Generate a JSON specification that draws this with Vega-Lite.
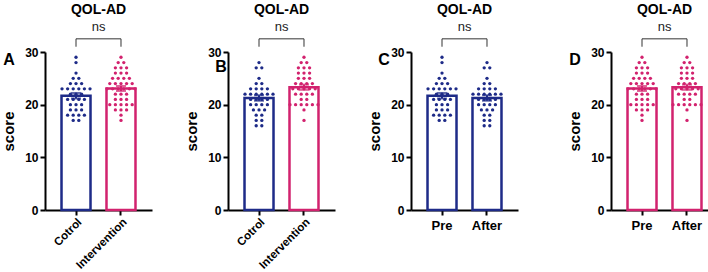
{
  "$schema": "https://vega.github.io/schema/vega-lite/v6.json",
  "padding": {"left": 1, "top": 2, "right": 0, "bottom": 0},
  "background": "white",
  "config": {
    "font": "Liberation Sans",
    "view": {"stroke": null},
    "scale": {"bandPaddingInner": 0.333, "bandPaddingOuter": 0.356, "barBandPaddingInner": 0.333},
    "axis": {"domainColor": "black", "domainWidth": 2, "tickColor": "black", "tickWidth": 2, "tickSize": 5, "labelFont": "Liberation Sans", "labelFontWeight": "bold", "labelFontSize": 12, "labelColor": "black", "grid": false, "titleFont": "Liberation Sans", "titleFontWeight": "bold", "titleFontSize": 15, "titleColor": "black"},
    "title": {"font": "Liberation Sans", "fontWeight": "bold", "fontSize": 14, "color": "black", "offset": 4}
  },
  "datasets": {"scores": [
    {"cohort": "Cotrol", "time": "Pre", "score": 29}, {"cohort": "Cotrol", "time": "Pre", "score": 28}, {"cohort": "Cotrol", "time": "Pre", "score": 26},
    {"cohort": "Cotrol", "time": "Pre", "score": 25}, {"cohort": "Cotrol", "time": "Pre", "score": 25},
    {"cohort": "Cotrol", "time": "Pre", "score": 24}, {"cohort": "Cotrol", "time": "Pre", "score": 24}, {"cohort": "Cotrol", "time": "Pre", "score": 24},
    {"cohort": "Cotrol", "time": "Pre", "score": 23}, {"cohort": "Cotrol", "time": "Pre", "score": 23}, {"cohort": "Cotrol", "time": "Pre", "score": 23}, {"cohort": "Cotrol", "time": "Pre", "score": 23}, {"cohort": "Cotrol", "time": "Pre", "score": 23}, {"cohort": "Cotrol", "time": "Pre", "score": 23},
    {"cohort": "Cotrol", "time": "Pre", "score": 22}, {"cohort": "Cotrol", "time": "Pre", "score": 22}, {"cohort": "Cotrol", "time": "Pre", "score": 22},
    {"cohort": "Cotrol", "time": "Pre", "score": 21}, {"cohort": "Cotrol", "time": "Pre", "score": 21}, {"cohort": "Cotrol", "time": "Pre", "score": 21}, {"cohort": "Cotrol", "time": "Pre", "score": 21},
    {"cohort": "Cotrol", "time": "Pre", "score": 20}, {"cohort": "Cotrol", "time": "Pre", "score": 20}, {"cohort": "Cotrol", "time": "Pre", "score": 20},
    {"cohort": "Cotrol", "time": "Pre", "score": 19}, {"cohort": "Cotrol", "time": "Pre", "score": 19}, {"cohort": "Cotrol", "time": "Pre", "score": 19},
    {"cohort": "Cotrol", "time": "Pre", "score": 18}, {"cohort": "Cotrol", "time": "Pre", "score": 18}, {"cohort": "Cotrol", "time": "Pre", "score": 18}, {"cohort": "Cotrol", "time": "Pre", "score": 18},
    {"cohort": "Cotrol", "time": "Pre", "score": 17}, {"cohort": "Cotrol", "time": "Pre", "score": 17},

    {"cohort": "Cotrol", "time": "After", "score": 28}, {"cohort": "Cotrol", "time": "After", "score": 27}, {"cohort": "Cotrol", "time": "After", "score": 27},
    {"cohort": "Cotrol", "time": "After", "score": 25},
    {"cohort": "Cotrol", "time": "After", "score": 24}, {"cohort": "Cotrol", "time": "After", "score": 24},
    {"cohort": "Cotrol", "time": "After", "score": 23}, {"cohort": "Cotrol", "time": "After", "score": 23}, {"cohort": "Cotrol", "time": "After", "score": 23}, {"cohort": "Cotrol", "time": "After", "score": 23},
    {"cohort": "Cotrol", "time": "After", "score": 22}, {"cohort": "Cotrol", "time": "After", "score": 22}, {"cohort": "Cotrol", "time": "After", "score": 22}, {"cohort": "Cotrol", "time": "After", "score": 22}, {"cohort": "Cotrol", "time": "After", "score": 22}, {"cohort": "Cotrol", "time": "After", "score": 22},
    {"cohort": "Cotrol", "time": "After", "score": 21}, {"cohort": "Cotrol", "time": "After", "score": 21}, {"cohort": "Cotrol", "time": "After", "score": 21}, {"cohort": "Cotrol", "time": "After", "score": 21},
    {"cohort": "Cotrol", "time": "After", "score": 20}, {"cohort": "Cotrol", "time": "After", "score": 20}, {"cohort": "Cotrol", "time": "After", "score": 20}, {"cohort": "Cotrol", "time": "After", "score": 20},
    {"cohort": "Cotrol", "time": "After", "score": 19}, {"cohort": "Cotrol", "time": "After", "score": 19}, {"cohort": "Cotrol", "time": "After", "score": 19},
    {"cohort": "Cotrol", "time": "After", "score": 18}, {"cohort": "Cotrol", "time": "After", "score": 18},
    {"cohort": "Cotrol", "time": "After", "score": 17}, {"cohort": "Cotrol", "time": "After", "score": 17},
    {"cohort": "Cotrol", "time": "After", "score": 16}, {"cohort": "Cotrol", "time": "After", "score": 16},

    {"cohort": "Intervention", "time": "Pre", "score": 29},
    {"cohort": "Intervention", "time": "Pre", "score": 28}, {"cohort": "Intervention", "time": "Pre", "score": 28},
    {"cohort": "Intervention", "time": "Pre", "score": 27}, {"cohort": "Intervention", "time": "Pre", "score": 27}, {"cohort": "Intervention", "time": "Pre", "score": 27},
    {"cohort": "Intervention", "time": "Pre", "score": 26}, {"cohort": "Intervention", "time": "Pre", "score": 26}, {"cohort": "Intervention", "time": "Pre", "score": 26},
    {"cohort": "Intervention", "time": "Pre", "score": 25}, {"cohort": "Intervention", "time": "Pre", "score": 25}, {"cohort": "Intervention", "time": "Pre", "score": 25}, {"cohort": "Intervention", "time": "Pre", "score": 25},
    {"cohort": "Intervention", "time": "Pre", "score": 24}, {"cohort": "Intervention", "time": "Pre", "score": 24}, {"cohort": "Intervention", "time": "Pre", "score": 24}, {"cohort": "Intervention", "time": "Pre", "score": 24}, {"cohort": "Intervention", "time": "Pre", "score": 24},
    {"cohort": "Intervention", "time": "Pre", "score": 23}, {"cohort": "Intervention", "time": "Pre", "score": 23}, {"cohort": "Intervention", "time": "Pre", "score": 23}, {"cohort": "Intervention", "time": "Pre", "score": 23}, {"cohort": "Intervention", "time": "Pre", "score": 23}, {"cohort": "Intervention", "time": "Pre", "score": 23},
    {"cohort": "Intervention", "time": "Pre", "score": 22}, {"cohort": "Intervention", "time": "Pre", "score": 22}, {"cohort": "Intervention", "time": "Pre", "score": 22},
    {"cohort": "Intervention", "time": "Pre", "score": 21}, {"cohort": "Intervention", "time": "Pre", "score": 21}, {"cohort": "Intervention", "time": "Pre", "score": 21},
    {"cohort": "Intervention", "time": "Pre", "score": 20}, {"cohort": "Intervention", "time": "Pre", "score": 20}, {"cohort": "Intervention", "time": "Pre", "score": 20}, {"cohort": "Intervention", "time": "Pre", "score": 20}, {"cohort": "Intervention", "time": "Pre", "score": 20},
    {"cohort": "Intervention", "time": "Pre", "score": 19}, {"cohort": "Intervention", "time": "Pre", "score": 19}, {"cohort": "Intervention", "time": "Pre", "score": 19},
    {"cohort": "Intervention", "time": "Pre", "score": 18},
    {"cohort": "Intervention", "time": "Pre", "score": 17},

    {"cohort": "Intervention", "time": "After", "score": 29},
    {"cohort": "Intervention", "time": "After", "score": 28}, {"cohort": "Intervention", "time": "After", "score": 28},
    {"cohort": "Intervention", "time": "After", "score": 27}, {"cohort": "Intervention", "time": "After", "score": 27}, {"cohort": "Intervention", "time": "After", "score": 27},
    {"cohort": "Intervention", "time": "After", "score": 26}, {"cohort": "Intervention", "time": "After", "score": 26}, {"cohort": "Intervention", "time": "After", "score": 26},
    {"cohort": "Intervention", "time": "After", "score": 25}, {"cohort": "Intervention", "time": "After", "score": 25}, {"cohort": "Intervention", "time": "After", "score": 25},
    {"cohort": "Intervention", "time": "After", "score": 24}, {"cohort": "Intervention", "time": "After", "score": 24}, {"cohort": "Intervention", "time": "After", "score": 24}, {"cohort": "Intervention", "time": "After", "score": 24},
    {"cohort": "Intervention", "time": "After", "score": 23}, {"cohort": "Intervention", "time": "After", "score": 23}, {"cohort": "Intervention", "time": "After", "score": 23}, {"cohort": "Intervention", "time": "After", "score": 23}, {"cohort": "Intervention", "time": "After", "score": 23},
    {"cohort": "Intervention", "time": "After", "score": 22}, {"cohort": "Intervention", "time": "After", "score": 22}, {"cohort": "Intervention", "time": "After", "score": 22}, {"cohort": "Intervention", "time": "After", "score": 22},
    {"cohort": "Intervention", "time": "After", "score": 21}, {"cohort": "Intervention", "time": "After", "score": 21},
    {"cohort": "Intervention", "time": "After", "score": 20}, {"cohort": "Intervention", "time": "After", "score": 20}, {"cohort": "Intervention", "time": "After", "score": 20}, {"cohort": "Intervention", "time": "After", "score": 20}, {"cohort": "Intervention", "time": "After", "score": 20}, {"cohort": "Intervention", "time": "After", "score": 20},
    {"cohort": "Intervention", "time": "After", "score": 19},
    {"cohort": "Intervention", "time": "After", "score": 17}
  ], "note": [{"label": "annotation"}]},
  "hconcat": [
    {
      "hconcat": [
        {
          "width": 107, "height": 158,
          "title": "QOL-AD",
          "resolve": {"scale": {"xOffset": "independent"}},
          "encoding": {"x": {"field": "cohort", "type": "nominal", "sort": ["Cotrol", "Intervention"], "scale": {"type": "band", "domain": ["Cotrol", "Intervention"], "paddingInner": 0.333, "paddingOuter": 0.356}, "axis": {"title": null, "labelAngle": -45, "labelAlign": "right", "labelBaseline": "top", "labelPadding": 1, "labelFontSize": 11.5}}},
          "layer": [
            {"data": {"name": "scores"}, "transform": [{"filter": "datum.time === 'Pre'"}],
             "mark": {"type": "bar", "fill": "white", "strokeWidth": 2.5, "width": 29},
             "encoding": {"y": {"aggregate": "mean", "field": "score", "type": "quantitative", "title": "score", "scale": {"domain": [0, 30]}, "axis": {"values": [0, 10, 20, 30], "titlePadding": 8}},
                          "stroke": {"field": "cohort", "type": "nominal", "scale": {"domain": ["Cotrol", "Intervention"], "range": ["#1e2b88", "#d2226e"]}, "legend": null}}},
            {"data": {"name": "scores"},
             "transform": [
               {"filter": "datum.time === 'Pre'"},
               {"window": [{"op": "row_number", "as": "rk"}], "groupby": ["cohort", "time", "score"]},
               {"joinaggregate": [{"op": "count", "as": "n"}], "groupby": ["cohort", "time", "score"]},
               {"calculate": "datum.rk - (datum.n + 1) / 2", "as": "off"}
             ],
             "mark": {"type": "circle", "size": 11, "opacity": 1},
             "encoding": {"y": {"field": "score", "type": "quantitative", "title": "score"},
                          "xOffset": {"field": "off", "type": "quantitative", "scale": {"domain": [-5, 5], "range": [-13, 43]}},
                          "color": {"field": "cohort", "type": "nominal", "scale": {"domain": ["Cotrol", "Intervention"], "range": ["#1e2b88", "#d2226e"]}, "legend": null}}},
            {"data": {"name": "scores"}, "transform": [{"filter": "datum.time === 'Pre'"}],
             "mark": {"type": "errorbar", "extent": "stderr", "ticks": {"size": 10}, "thickness": 2},
             "encoding": {"y": {"field": "score", "type": "quantitative", "title": "score"},
                          "color": {"field": "cohort", "type": "nominal", "scale": {"domain": ["Cotrol", "Intervention"], "range": ["#1e2b88", "#d2226e"]}, "legend": null}}},
            {"data": {"name": "note"}, "mark": {"type": "rule", "color": "#333333", "strokeWidth": 1}, "encoding": {"x": {"datum": "Cotrol"}, "x2": {"datum": "Intervention"}, "y": {"datum": 32.5}}},
            {"data": {"name": "note"}, "mark": {"type": "rule", "color": "#333333", "strokeWidth": 1}, "encoding": {"x": {"datum": "Cotrol"}, "y": {"datum": 31}, "y2": {"datum": 32.5}}},
            {"data": {"name": "note"}, "mark": {"type": "rule", "color": "#333333", "strokeWidth": 1}, "encoding": {"x": {"datum": "Intervention"}, "y": {"datum": 31}, "y2": {"datum": 32.5}}},
            {"data": {"name": "note"}, "mark": {"type": "text", "fontSize": 13, "dx": 22.5, "color": "#222222"}, "encoding": {"x": {"datum": "Cotrol"}, "y": {"datum": 34.8}, "text": {"value": "ns"}}},
            {"data": {"name": "note"}, "mark": {"type": "text", "fontSize": 16, "fontWeight": "bold", "dx": -67, "color": "black"}, "encoding": {"x": {"datum": "Cotrol"}, "y": {"datum": 28.4}, "text": {"value": "A"}}}
          ]
        },
        {
          "width": 107, "height": 158,
          "title": "QOL-AD",
          "resolve": {"scale": {"xOffset": "independent"}},
          "encoding": {"x": {"field": "cohort", "type": "nominal", "sort": ["Cotrol", "Intervention"], "scale": {"type": "band", "domain": ["Cotrol", "Intervention"], "paddingInner": 0.333, "paddingOuter": 0.356}, "axis": {"title": null, "labelAngle": -45, "labelAlign": "right", "labelBaseline": "top", "labelPadding": 1, "labelFontSize": 11.5}}},
          "layer": [
            {"data": {"name": "scores"}, "transform": [{"filter": "datum.time === 'After'"}],
             "mark": {"type": "bar", "fill": "white", "strokeWidth": 2.5, "width": 29},
             "encoding": {"y": {"aggregate": "mean", "field": "score", "type": "quantitative", "title": "score", "scale": {"domain": [0, 30]}, "axis": {"values": [0, 10, 20, 30], "titlePadding": 8}},
                          "stroke": {"field": "cohort", "type": "nominal", "scale": {"domain": ["Cotrol", "Intervention"], "range": ["#1e2b88", "#d2226e"]}, "legend": null}}},
            {"data": {"name": "scores"},
             "transform": [
               {"filter": "datum.time === 'After'"},
               {"window": [{"op": "row_number", "as": "rk"}], "groupby": ["cohort", "time", "score"]},
               {"joinaggregate": [{"op": "count", "as": "n"}], "groupby": ["cohort", "time", "score"]},
               {"calculate": "datum.rk - (datum.n + 1) / 2", "as": "off"}
             ],
             "mark": {"type": "circle", "size": 11, "opacity": 1},
             "encoding": {"y": {"field": "score", "type": "quantitative", "title": "score"},
                          "xOffset": {"field": "off", "type": "quantitative", "scale": {"domain": [-5, 5], "range": [-13, 43]}},
                          "color": {"field": "cohort", "type": "nominal", "scale": {"domain": ["Cotrol", "Intervention"], "range": ["#1e2b88", "#d2226e"]}, "legend": null}}},
            {"data": {"name": "scores"}, "transform": [{"filter": "datum.time === 'After'"}],
             "mark": {"type": "errorbar", "extent": "stderr", "ticks": {"size": 10}, "thickness": 2},
             "encoding": {"y": {"field": "score", "type": "quantitative", "title": "score"},
                          "color": {"field": "cohort", "type": "nominal", "scale": {"domain": ["Cotrol", "Intervention"], "range": ["#1e2b88", "#d2226e"]}, "legend": null}}},
            {"data": {"name": "note"}, "mark": {"type": "rule", "color": "#333333", "strokeWidth": 1}, "encoding": {"x": {"datum": "Cotrol"}, "x2": {"datum": "Intervention"}, "y": {"datum": 32.5}}},
            {"data": {"name": "note"}, "mark": {"type": "rule", "color": "#333333", "strokeWidth": 1}, "encoding": {"x": {"datum": "Cotrol"}, "y": {"datum": 31}, "y2": {"datum": 32.5}}},
            {"data": {"name": "note"}, "mark": {"type": "rule", "color": "#333333", "strokeWidth": 1}, "encoding": {"x": {"datum": "Intervention"}, "y": {"datum": 31}, "y2": {"datum": 32.5}}},
            {"data": {"name": "note"}, "mark": {"type": "text", "fontSize": 13, "dx": 22.5, "color": "#222222"}, "encoding": {"x": {"datum": "Cotrol"}, "y": {"datum": 34.8}, "text": {"value": "ns"}}},
            {"data": {"name": "note"}, "mark": {"type": "text", "fontSize": 16, "fontWeight": "bold", "dx": -38, "color": "black"}, "encoding": {"x": {"datum": "Cotrol"}, "y": {"datum": 27.2}, "text": {"value": "B"}}}
          ]
        },
        {
          "width": 107, "height": 158,
          "title": "QOL-AD",
          "resolve": {"scale": {"xOffset": "independent"}},
          "encoding": {"x": {"field": "time", "type": "nominal", "sort": ["Pre", "After"], "scale": {"type": "band", "domain": ["Pre", "After"], "paddingInner": 0.333, "paddingOuter": 0.356}, "axis": {"title": null, "labelAngle": 0, "labelFontSize": 13, "labelPadding": 4}}},
          "layer": [
            {"data": {"name": "scores"}, "transform": [{"filter": "datum.cohort === 'Cotrol'"}],
             "mark": {"type": "bar", "fill": "white", "strokeWidth": 2.5, "width": 29},
             "encoding": {"y": {"aggregate": "mean", "field": "score", "type": "quantitative", "title": "score", "scale": {"domain": [0, 30]}, "axis": {"values": [0, 10, 20, 30], "titlePadding": 8}},
                          "stroke": {"field": "cohort", "type": "nominal", "scale": {"domain": ["Cotrol", "Intervention"], "range": ["#1e2b88", "#d2226e"]}, "legend": null}}},
            {"data": {"name": "scores"},
             "transform": [
               {"filter": "datum.cohort === 'Cotrol'"},
               {"window": [{"op": "row_number", "as": "rk"}], "groupby": ["cohort", "time", "score"]},
               {"joinaggregate": [{"op": "count", "as": "n"}], "groupby": ["cohort", "time", "score"]},
               {"calculate": "datum.rk - (datum.n + 1) / 2", "as": "off"}
             ],
             "mark": {"type": "circle", "size": 11, "opacity": 1},
             "encoding": {"y": {"field": "score", "type": "quantitative", "title": "score"},
                          "xOffset": {"field": "off", "type": "quantitative", "scale": {"domain": [-5, 5], "range": [-13, 43]}},
                          "color": {"field": "cohort", "type": "nominal", "scale": {"domain": ["Cotrol", "Intervention"], "range": ["#1e2b88", "#d2226e"]}, "legend": null}}},
            {"data": {"name": "scores"}, "transform": [{"filter": "datum.cohort === 'Cotrol'"}],
             "mark": {"type": "errorbar", "extent": "stderr", "ticks": {"size": 10}, "thickness": 2},
             "encoding": {"y": {"field": "score", "type": "quantitative", "title": "score"},
                          "color": {"field": "cohort", "type": "nominal", "scale": {"domain": ["Cotrol", "Intervention"], "range": ["#1e2b88", "#d2226e"]}, "legend": null}}},
            {"data": {"name": "note"}, "mark": {"type": "rule", "color": "#333333", "strokeWidth": 1}, "encoding": {"x": {"datum": "Pre"}, "x2": {"datum": "After"}, "y": {"datum": 32.5}}},
            {"data": {"name": "note"}, "mark": {"type": "rule", "color": "#333333", "strokeWidth": 1}, "encoding": {"x": {"datum": "Pre"}, "y": {"datum": 31}, "y2": {"datum": 32.5}}},
            {"data": {"name": "note"}, "mark": {"type": "rule", "color": "#333333", "strokeWidth": 1}, "encoding": {"x": {"datum": "After"}, "y": {"datum": 31}, "y2": {"datum": 32.5}}},
            {"data": {"name": "note"}, "mark": {"type": "text", "fontSize": 13, "dx": 22.5, "color": "#222222"}, "encoding": {"x": {"datum": "Pre"}, "y": {"datum": 34.8}, "text": {"value": "ns"}}},
            {"data": {"name": "note"}, "mark": {"type": "text", "fontSize": 16, "fontWeight": "bold", "dx": -58, "color": "black"}, "encoding": {"x": {"datum": "Pre"}, "y": {"datum": 28.4}, "text": {"value": "C"}}}
          ]
        }
      ],
      "spacing": 76,
      "bounds": "flush"
    },
    {
      "width": 107, "height": 158,
      "title": "QOL-AD",
      "resolve": {"scale": {"xOffset": "independent"}},
      "encoding": {"x": {"field": "time", "type": "nominal", "sort": ["Pre", "After"], "scale": {"type": "band", "domain": ["Pre", "After"], "paddingInner": 0.333, "paddingOuter": 0.356}, "axis": {"title": null, "labelAngle": 0, "labelFontSize": 13, "labelPadding": 4}}},
      "layer": [
        {"data": {"name": "scores"}, "transform": [{"filter": "datum.cohort === 'Intervention'"}],
         "mark": {"type": "bar", "fill": "white", "strokeWidth": 2.5, "width": 29},
         "encoding": {"y": {"aggregate": "mean", "field": "score", "type": "quantitative", "title": "score", "scale": {"domain": [0, 30]}, "axis": {"values": [0, 10, 20, 30], "titlePadding": 8}},
                      "stroke": {"field": "cohort", "type": "nominal", "scale": {"domain": ["Cotrol", "Intervention"], "range": ["#1e2b88", "#d2226e"]}, "legend": null}}},
        {"data": {"name": "scores"},
         "transform": [
           {"filter": "datum.cohort === 'Intervention'"},
           {"window": [{"op": "row_number", "as": "rk"}], "groupby": ["cohort", "time", "score"]},
           {"joinaggregate": [{"op": "count", "as": "n"}], "groupby": ["cohort", "time", "score"]},
           {"calculate": "datum.rk - (datum.n + 1) / 2", "as": "off"}
         ],
         "mark": {"type": "circle", "size": 11, "opacity": 1},
         "encoding": {"y": {"field": "score", "type": "quantitative", "title": "score"},
                      "xOffset": {"field": "off", "type": "quantitative", "scale": {"domain": [-5, 5], "range": [-13, 43]}},
                      "color": {"field": "cohort", "type": "nominal", "scale": {"domain": ["Cotrol", "Intervention"], "range": ["#1e2b88", "#d2226e"]}, "legend": null}}},
        {"data": {"name": "scores"}, "transform": [{"filter": "datum.cohort === 'Intervention'"}],
         "mark": {"type": "errorbar", "extent": "stderr", "ticks": {"size": 10}, "thickness": 2},
         "encoding": {"y": {"field": "score", "type": "quantitative", "title": "score"},
                      "color": {"field": "cohort", "type": "nominal", "scale": {"domain": ["Cotrol", "Intervention"], "range": ["#1e2b88", "#d2226e"]}, "legend": null}}},
        {"data": {"name": "note"}, "mark": {"type": "rule", "color": "#333333", "strokeWidth": 1}, "encoding": {"x": {"datum": "Pre"}, "x2": {"datum": "After"}, "y": {"datum": 32.5}}},
        {"data": {"name": "note"}, "mark": {"type": "rule", "color": "#333333", "strokeWidth": 1}, "encoding": {"x": {"datum": "Pre"}, "y": {"datum": 31}, "y2": {"datum": 32.5}}},
        {"data": {"name": "note"}, "mark": {"type": "rule", "color": "#333333", "strokeWidth": 1}, "encoding": {"x": {"datum": "After"}, "y": {"datum": 31}, "y2": {"datum": 32.5}}},
        {"data": {"name": "note"}, "mark": {"type": "text", "fontSize": 13, "dx": 22.5, "color": "#222222"}, "encoding": {"x": {"datum": "Pre"}, "y": {"datum": 34.8}, "text": {"value": "ns"}}},
        {"data": {"name": "note"}, "mark": {"type": "text", "fontSize": 16, "fontWeight": "bold", "dx": -67, "color": "black"}, "encoding": {"x": {"datum": "Pre"}, "y": {"datum": 28.4}, "text": {"value": "D"}}}
      ]
    }
  ],
  "spacing": 49
}
